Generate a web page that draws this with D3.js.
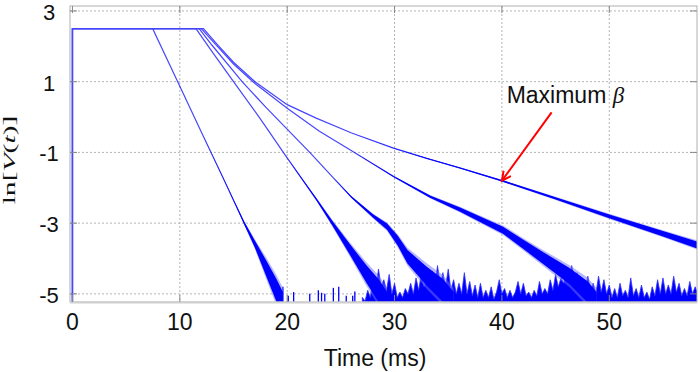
<!DOCTYPE html>
<html>
<head>
<meta charset="utf-8">
<script src="https://cdn.jsdelivr.net/npm/d3@7"></script>
<style>
body { margin: 0; background: #fff; }
svg text { font-family: "Liberation Sans", Arial, sans-serif; fill: #111; }
.grid line { stroke: #b4b4b4; stroke-dasharray: 2,2; }
.ticks line { stroke: #888; }
</style>
</head>
<body>
<div id="chart"></div>
<script>
// ticks
var xTicks = [0, 10, 20, 30, 40, 50];
var yTicks = [3, 1, -1, -3, -5];

// traces: time (ms), ln V, noise half width
var curveA_t = [0, 0, 7.47, 10, 12, 14, 15, 16, 17, 18, 19, 19.6];
var curveA_v = [-5.3, 2.5, 2.5, 0.87, -0.42, -1.7, -2.35, -3.0, -3.6, -4.25, -4.9, -5.3];
var curveA_n = [0, 0, 0, 0, 0, 0.01, 0.02, 0.04, 0.1, 0.22, 0.32, 0.35];

var curveB_t = [0, 0, 11.5, 13, 15, 17.5, 19.8, 22.75, 24.2, 25.85, 27.4, 28.5, 29.3];
var curveB_v = [-5.3, 2.5, 2.5, 1.85, 1.0, -0.05, -1.07, -2.34, -3.0, -3.75, -4.45, -4.9, -5.3];
var curveB_n = [0, 0, 0, 0, 0, 0, 0, 0.03, 0.07, 0.15, 0.25, 0.32, 0.35];

var curveC_t = [0, 0, 11.8, 13, 15.8, 18, 22.1, 24.3, 26, 28, 29.3, 30.3, 31.2, 33, 34.5, 35.5];
var curveC_v = [-5.3, 2.5, 2.5, 2.03, 1.0, 0.28, -1.0, -1.72, -2.27, -2.8, -3.1, -3.5, -3.95, -4.5, -4.9, -5.3];
var curveC_n = [0, 0, 0, 0, 0, 0, 0, 0, 0.02, 0.05, 0.09, 0.14, 0.19, 0.27, 0.32, 0.35];

var curveD_t = [0, 0, 12.0, 13.5, 15, 17, 20, 23, 26, 29.9, 33.3, 36.1, 40.1, 42, 43.9, 46.3, 48, 48.8];
var curveD_v = [-5.3, 2.5, 2.5, 2.0, 1.5, 0.95, 0.25, -0.4, -0.95, -1.68, -2.25, -2.62, -3.2, -3.6, -4.0, -4.5, -4.95, -5.3];
var curveD_n = [0, 0, 0, 0, 0, 0, 0, 0, 0, 0.015, 0.035, 0.06, 0.1, 0.13, 0.17, 0.23, 0.3, 0.35];

var curveE_t = [0, 0, 12.2, 13.5, 15, 17, 20, 22.7, 26, 29.9, 33, 36.1, 40, 45, 50, 55, 58.5];
var curveE_v = [-5.3, 2.5, 2.5, 2.05, 1.55, 1.0, 0.35, -0.03, -0.45, -0.88, -1.17, -1.44, -1.8, -2.3, -2.81, -3.3, -3.65];
var curveE_n = [0, 0, 0, 0, 0, 0, 0, 0, 0, 0.005, 0.01, 0.015, 0.02, 0.035, 0.055, 0.075, 0.1];

// isolated noise spikes near the floor
var spikeT = [19.6, 20.1, 20.6, 22.1, 22.9, 23.2, 23.5, 24.3, 24.8, 25.5, 26.1, 26.3];
var spikeV = [-4.8, -5.05, -4.95, -5.0, -4.9, -4.97, -5.0, -4.83, -4.8, -5.05, -5.05, -4.93];

// dense noise floor, [t, top of noise]
var floorNoise = [
    [27.00, -5.10], [27.25, -5.20], [27.50, -4.90], [27.75, -5.10], [28.00, -4.50], [28.25, -4.90],
    [28.50, -4.30], [28.75, -4.80], [29.00, -4.60], [29.25, -4.90], [29.50, -4.45], [29.75, -5.00],
    [30.00, -4.70], [30.25, -5.10], [30.50, -4.95], [30.75, -5.10], [31.00, -4.85], [31.25, -5.00],
    [31.50, -4.70], [31.75, -5.00], [32.00, -4.55], [32.25, -4.90], [32.50, -4.40], [32.75, -4.80],
    [33.00, -4.30], [33.25, -4.70], [33.50, -4.35], [33.75, -4.80], [34.00, -4.20], [34.25, -4.75],
    [34.50, -4.40], [34.75, -4.80], [35.00, -4.30], [35.25, -4.90], [35.50, -4.60], [35.75, -5.00],
    [36.00, -4.70], [36.25, -5.00], [36.50, -4.40], [36.75, -5.00], [37.00, -4.65], [37.25, -5.05],
    [37.50, -4.75], [37.75, -5.10], [38.00, -4.70], [38.25, -5.10], [38.50, -4.90], [38.75, -5.10],
    [39.00, -4.80], [39.25, -5.15], [39.50, -4.95], [39.75, -4.60], [40.00, -5.00], [40.25, -4.85],
    [40.50, -5.10], [40.75, -4.90], [41.00, -5.10], [41.25, -4.95], [41.50, -4.65], [41.75, -5.00],
    [42.00, -4.70], [42.25, -5.05], [42.50, -4.95], [42.75, -5.10], [43.00, -4.90], [43.25, -5.05],
    [43.50, -4.65], [43.75, -5.00], [44.00, -4.85], [44.25, -5.00], [44.50, -4.60], [44.75, -4.90],
    [45.00, -4.45], [45.25, -4.80], [45.50, -4.55], [45.75, -4.70], [46.00, -4.30], [46.25, -4.60],
    [46.50, -4.20], [46.75, -4.60], [47.00, -4.40], [47.25, -4.80], [47.50, -4.55], [47.75, -4.90],
    [48.00, -4.50], [48.25, -4.90], [48.50, -4.70], [48.75, -5.00], [49.00, -4.50], [49.25, -4.95],
    [49.50, -4.60], [49.75, -5.00], [50.00, -4.75], [50.25, -5.10], [50.50, -4.85], [50.75, -5.10],
    [51.00, -4.70], [51.25, -5.05], [51.50, -4.90], [51.75, -5.10], [52.00, -4.55], [52.25, -5.05],
    [52.50, -4.85], [52.75, -5.10], [53.00, -4.75], [53.25, -5.10], [53.50, -4.95], [53.75, -5.15],
    [54.00, -4.80], [54.25, -5.05], [54.50, -4.60], [54.75, -5.00], [55.00, -4.55], [55.25, -5.00],
    [55.50, -4.75], [55.75, -5.00], [56.00, -4.50], [56.25, -4.95], [56.50, -4.70], [56.75, -5.05],
    [57.00, -4.85], [57.25, -5.05], [57.50, -4.65], [57.75, -5.00], [58.00, -4.80], [58.25, -5.00],
    [58.50, -4.70]
];

// annotation
var annoLabel = "Maximum ";
var annoAt = [40.44, 0.39];
var arrowFrom = [44.63, 0.13];
var arrowTo = [40.0, -1.8];

var width = 700, height = 372;
var plot = { left: 70, right: 697, top: 6, bottom: 302 };
var floorV = -5.3;

var x = d3.scaleLinear().domain([-0.23, 58.17]).range([plot.left, plot.right]);
var y = d3.scaleLinear().domain([-5.23, 3.14]).range([plot.bottom, plot.top]);

var svg = d3.select("#chart").append("svg")
    .attr("width", width)
    .attr("height", height);

svg.append("clipPath").attr("id", "clip")
  .append("rect")
    .attr("x", plot.left).attr("y", plot.top)
    .attr("width", plot.right - plot.left)
    .attr("height", plot.bottom - plot.top);

// grid
svg.append("g").attr("class", "grid")
    .selectAll("line").data(xTicks.filter(function(d) { return d > 0; }))
  .enter().append("line")
    .attr("x1", x).attr("x2", x)
    .attr("y1", plot.top).attr("y2", plot.bottom);
svg.append("g").attr("class", "grid")
    .selectAll("line").data(yTicks)
  .enter().append("line")
    .attr("y1", y).attr("y2", y)
    .attr("x1", plot.left).attr("x2", plot.right);

var data = svg.append("g").attr("clip-path", "url(#clip)");

var zip = function(ts, vs, ns) {
    return ts.map(function(t, i) { return { t: t, v: vs[i], n: ns[i] }; });
};
var curves = [
    zip(curveA_t, curveA_v, curveA_n),
    zip(curveB_t, curveB_v, curveB_n),
    zip(curveC_t, curveC_v, curveC_n),
    zip(curveD_t, curveD_v, curveD_n),
    zip(curveE_t, curveE_v, curveE_n)
];

// noise floor
data.append("path")
    .datum(floorNoise)
    .attr("fill", "#0000ff")
    .attr("stroke", "#3030ff")
    .attr("stroke-width", 0.8)
    .attr("d", d3.area()
        .x(function(d) { return x(d[0]); })
        .y0(y(floorV))
        .y1(function(d) { return y(d[1]); }));

data.append("g").selectAll("line")
    .data(spikeT)
  .enter().append("line")
    .attr("x1", x).attr("x2", x)
    .attr("y1", y(floorV))
    .attr("y2", function(d, i) { return y(spikeV[i]); })
    .attr("stroke", "#0000ff")
    .attr("stroke-width", 1.3);

// noise bands: soft halo then dense core
var band = function(k) {
    return d3.area()
        .x(function(d) { return x(d.t); })
        .y0(function(d) { return y(d.v - d.n * k); })
        .y1(function(d) { return y(d.v + d.n * k); });
};
curves.forEach(function(c) {
    data.append("path").datum(c)
        .attr("fill", "#7070ff").attr("opacity", 0.5)
        .attr("d", band(1.35));
    data.append("path").datum(c)
        .attr("fill", "#0000ff")
        .attr("d", band(1));
});

// traces, drawn in one translucent group so shared segments do not darken
var line = d3.line()
    .x(function(d) { return x(d.t); })
    .y(function(d) { return y(d.v); });
var traces = data.append("g").attr("opacity", 0.72);
curves.forEach(function(c) {
    traces.append("path").datum(c)
        .attr("fill", "none")
        .attr("stroke", "#0000ff")
        .attr("stroke-width", 1.2)
        .attr("d", line);
});

// frame and inward ticks
svg.append("rect")
    .attr("x", plot.left).attr("y", plot.top)
    .attr("width", plot.right - plot.left)
    .attr("height", plot.bottom - plot.top)
    .attr("fill", "none")
    .attr("stroke", "#b0b0b0");
svg.append("line")
    .attr("x1", plot.left).attr("x2", plot.right)
    .attr("y1", plot.bottom + 0.5).attr("y2", plot.bottom + 0.5)
    .attr("stroke", "#d0d0d0").attr("stroke-width", 2);

var ticks = svg.append("g").attr("class", "ticks");
xTicks.forEach(function(d) {
    ticks.append("line").attr("x1", x(d)).attr("x2", x(d)).attr("y1", plot.bottom).attr("y2", plot.bottom - 7);
    ticks.append("line").attr("x1", x(d)).attr("x2", x(d)).attr("y1", plot.top).attr("y2", plot.top + 7);
});
yTicks.forEach(function(d) {
    ticks.append("line").attr("y1", y(d)).attr("y2", y(d)).attr("x1", plot.left).attr("x2", plot.left + 7);
    ticks.append("line").attr("y1", y(d)).attr("y2", y(d)).attr("x1", plot.right).attr("x2", plot.right - 7);
});

// tick labels
svg.append("g").selectAll("text")
    .data(xTicks)
  .enter().append("text")
    .attr("x", x)
    .attr("y", 329.5)
    .attr("text-anchor", "middle")
    .attr("font-size", 23)
    .text(function(d) { return d; });
svg.append("g").selectAll("text")
    .data(yTicks)
  .enter().append("text")
    .attr("x", 49)
    .attr("y", function(d) { return y(d) + 9; })
    .attr("text-anchor", "middle")
    .attr("font-size", 22)
    .text(function(d) { return d; });

// axis titles
svg.append("text")
    .attr("x", 375).attr("y", 366)
    .attr("text-anchor", "middle")
    .attr("font-size", 23)
    .text("Time (ms)");

// y title is stretched along its length in the original
var ylab = svg.append("text")
    .attr("transform", "translate(15,160) rotate(-90) scale(1.85,1)")
    .attr("text-anchor", "middle")
    .style("font-family", "'Liberation Serif', 'Times New Roman', serif")
    .attr("font-size", 16);
ylab.append("tspan").text("ln[");
ylab.append("tspan").attr("font-style", "italic").text("V");
ylab.append("tspan").text("(");
ylab.append("tspan").attr("font-style", "italic").text("t");
ylab.append("tspan").text(")]");

// annotation
var anno = svg.append("text")
    .attr("x", x(annoAt[0])).attr("y", y(annoAt[1]))
    .attr("font-size", 23);
anno.append("tspan").text(annoLabel);
anno.append("tspan")
    .style("font-family", "'Liberation Serif', serif")
    .attr("font-style", "italic")
    .text("\u03b2");

svg.append("defs").append("marker")
    .attr("id", "head")
    .attr("viewBox", "-1 -6 12 12")
    .attr("refX", 9).attr("refY", 0)
    .attr("markerWidth", 12).attr("markerHeight", 12)
    .attr("markerUnits", "userSpaceOnUse")
    .attr("orient", "auto")
  .append("path")
    .attr("d", "M0,-4.5L9,0L0,4.5")
    .attr("fill", "none")
    .attr("stroke", "#ff0000")
    .attr("stroke-width", 2);

svg.append("line")
    .attr("x1", x(arrowFrom[0])).attr("y1", y(arrowFrom[1]))
    .attr("x2", x(arrowTo[0])).attr("y2", y(arrowTo[1]))
    .attr("stroke", "#ff0000")
    .attr("stroke-width", 2)
    .attr("marker-end", "url(#head)");
</script>
</body>
</html>
